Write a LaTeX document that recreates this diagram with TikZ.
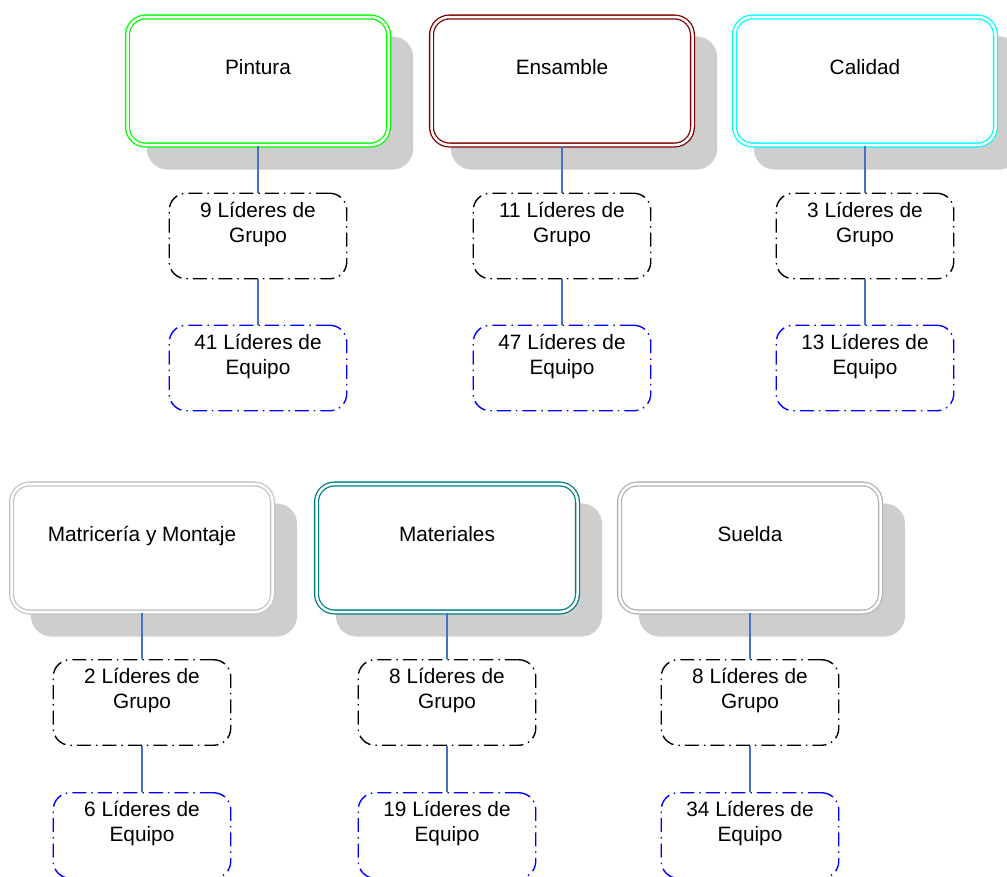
\documentclass[tikz,border=0pt]{standalone}
\usepackage{fontspec}
\setmainfont{Liberation Sans}
\usetikzlibrary{shadows}
\definecolor{shadowgray}{RGB}{206,206,206}
\definecolor{linkblue}{RGB}{68,114,196}
\definecolor{pintura}{RGB}{0,255,0}
\definecolor{ensamble}{RGB}{128,0,0}
\definecolor{calidad}{RGB}{0,255,255}
\definecolor{matriceria}{RGB}{196,196,196}
\definecolor{materiales}{RGB}{0,128,128}
\definecolor{suelda}{RGB}{180,180,180}
\newcommand{\twolines}[2]{\begin{tabular}[t]{@{}c@{}}#1\\#2\end{tabular}}
\begin{document}
\begin{tikzpicture}[x=1pt,y=-1pt,
  every node/.style={font=\fontsize{20.8}{25}\selectfont, inner sep=0pt},
  area/.style={draw=#1, double=white, double distance=2.5pt, line width=1.3pt,
    rounded corners=18pt, minimum width=261pt, minimum height=128pt,
    text height=15pt, text depth=28pt, fill=white,
    general shadow={fill=shadowgray, draw=shadowgray, line width=5.1pt,
      shadow xshift=22pt, shadow yshift=-22pt}},
  groupbox/.style={draw=black, line width=1.4pt,
    dash pattern=on 14pt off 5pt on 1.5pt off 5pt, rounded corners=17pt,
    minimum width=177.5pt, minimum height=85.5pt,
    text height=15pt, text depth=53pt, fill=white},
  teambox/.style={groupbox, draw=blue},
  link/.style={draw=linkblue, line width=1.5pt}]
\useasboundingbox (0,0) rectangle (1007,876);

% upper row
\node[area=pintura]    (pin) at (258,81)  {Pintura};
\node[area=ensamble]   (ens) at (562,81)  {Ensamble};
\node[area=calidad]    (cal) at (865,81)  {Calidad};
% lower row
\node[area=matriceria] (mat) at (142,548) {Matricería y Montaje};
\node[area=materiales] (mtl) at (447,548) {Materiales};
\node[area=suelda]     (sue) at (750,548) {Suelda};

% group leaders
\node[groupbox] (pinG) at (258,236)   {\twolines{9 Líderes de}{Grupo}};
\node[groupbox] (ensG) at (562,236)   {\twolines{11 Líderes de}{Grupo}};
\node[groupbox] (calG) at (865,236)   {\twolines{3 Líderes de}{Grupo}};
\node[groupbox] (matG) at (142,702.5) {\twolines{2 Líderes de}{Grupo}};
\node[groupbox] (mtlG) at (447,702.5) {\twolines{8 Líderes de}{Grupo}};
\node[groupbox] (sueG) at (750,702.5) {\twolines{8 Líderes de}{Grupo}};

% team leaders
\node[teambox] (pinE) at (258,368)   {\twolines{41 Líderes de}{Equipo}};
\node[teambox] (ensE) at (562,368)   {\twolines{47 Líderes de}{Equipo}};
\node[teambox] (calE) at (865,368)   {\twolines{13 Líderes de}{Equipo}};
\node[teambox] (matE) at (142,835.5) {\twolines{6 Líderes de}{Equipo}};
\node[teambox] (mtlE) at (447,835.5) {\twolines{19 Líderes de}{Equipo}};
\node[teambox] (sueE) at (750,835.5) {\twolines{34 Líderes de}{Equipo}};

% links from each area down to its leaders
\foreach \a in {pin,ens,cal,mat,mtl,sue}{
  \draw[link] (\a.south) -- (\a G.north);
  \draw[link] (\a G.south) -- (\a E.north);
}
\end{tikzpicture}
\end{document}
